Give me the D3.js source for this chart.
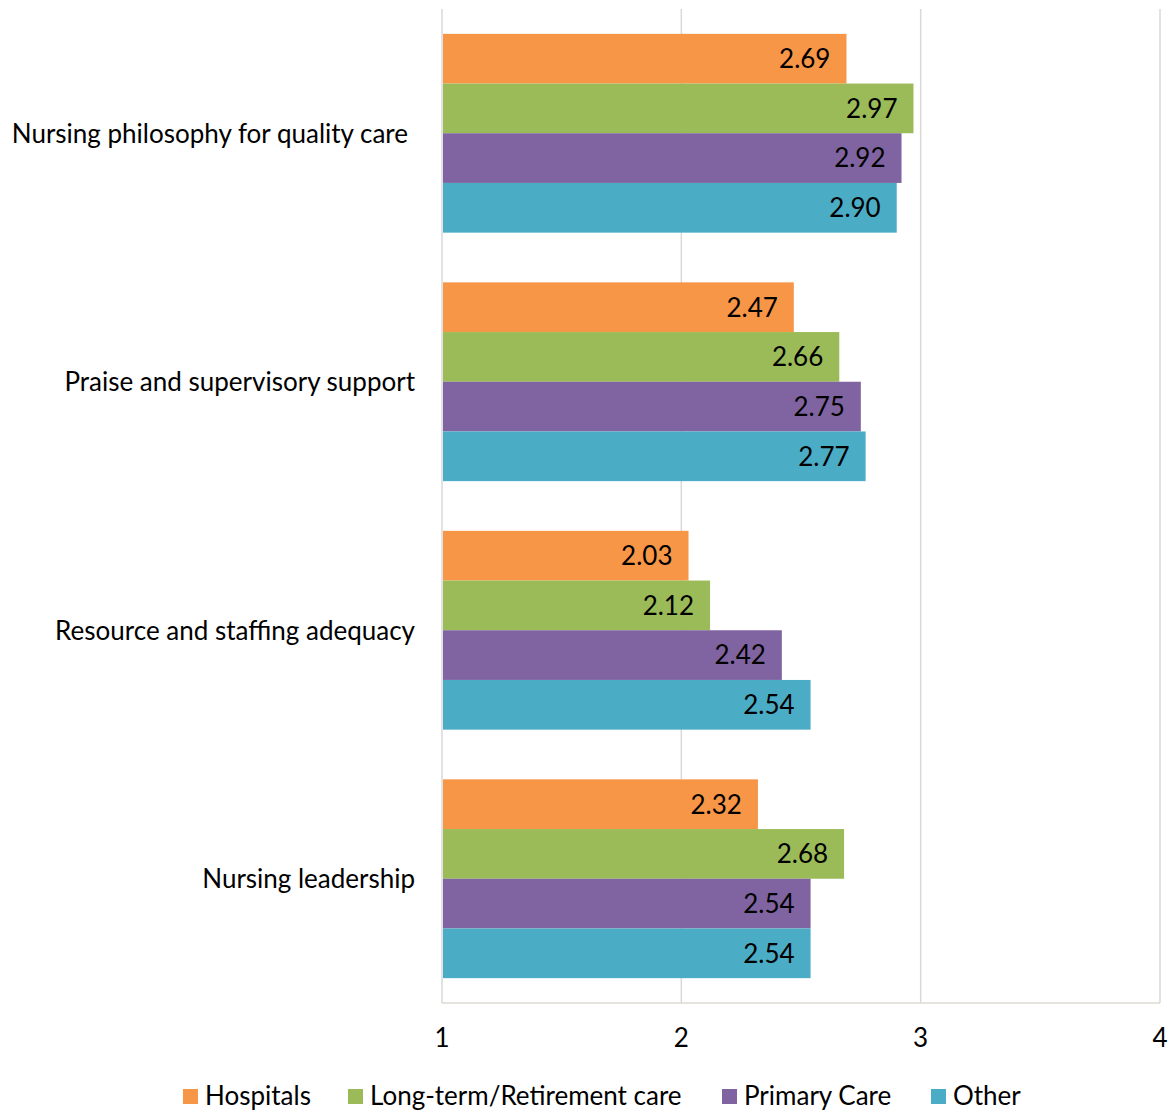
<!DOCTYPE html>
<html>
<head>
<meta charset="utf-8">
<script src="https://cdn.jsdelivr.net/npm/d3@7"></script>
<style>
  html, body { margin: 0; padding: 0; background: #fff; }
  svg text { font-family: Lato, "Open Sans", sans-serif; fill: #000; }
</style>
</head>
<body>
<svg id="chart" width="1173" height="1111"></svg>
<script>
// Work-environment subscales by practice setting
const categories = [
  "Nursing philosophy for quality care",
  "Praise and supervisory support",
  "Resource and staffing adequacy",
  "Nursing leadership"
];
const seriesNames = ["Hospitals", "Long-term/Retirement care", "Primary Care", "Other"];
const hospitals = [2.69, 2.47, 2.03, 2.32];
const longTerm  = [2.97, 2.66, 2.12, 2.68];
const primary   = [2.92, 2.75, 2.42, 2.54];
const other     = [2.90, 2.77, 2.54, 2.54];
const seriesValues = [hospitals, longTerm, primary, other];
const colors = ["#F79646", "#9BBB59", "#8064A2", "#4BACC6"];
const xTicks = [1, 2, 3, 4];

const FS = 26;
const svg = d3.select("#chart");
const plot = { left: 442, right: 1160, top: 9, bottom: 1003 };

const x = d3.scaleLinear().domain([1, 4]).range([plot.left, plot.right]);
const y = d3.scaleBand().domain(categories).range([plot.top, plot.bottom]).paddingInner(0.2).paddingOuter(0.1);
const ySub = d3.scaleBand().domain(seriesNames).range([0, y.bandwidth()]);

// vertical gridlines
svg.append("g")
  .selectAll("line")
  .data(xTicks)
  .join("line")
  .attr("x1", d => x(d)).attr("x2", d => x(d))
  .attr("y1", plot.top).attr("y2", plot.bottom)
  .attr("stroke", "#d9d9d9").attr("stroke-width", 1.5);

// bars
const groups = svg.append("g")
  .selectAll("g")
  .data(categories)
  .join("g")
  .attr("transform", d => `translate(0,${y(d)})`);

groups.each(function(cat, ci) {
  const g = d3.select(this);
  seriesNames.forEach((s, si) => {
    const v = seriesValues[si][ci];
    g.append("rect")
      .attr("x", x(1) + 1)
      .attr("y", ySub(s))
      .attr("width", x(v) - x(1) - 1)
      .attr("height", ySub.bandwidth())
      .attr("fill", colors[si]);
    g.append("text")
      .attr("x", x(v) - 16)
      .attr("y", ySub(s) + ySub.bandwidth() / 2)
      .attr("dy", "0.36em")
      .attr("text-anchor", "end")
      .attr("font-size", FS)
      .text(v.toFixed(2));
  });
});

// bottom axis line
svg.append("line")
  .attr("x1", plot.left).attr("x2", plot.right)
  .attr("y1", plot.bottom).attr("y2", plot.bottom)
  .attr("stroke", "#dcdad0").attr("stroke-width", 1.5);

// tick labels
svg.append("g")
  .selectAll("text")
  .data(xTicks)
  .join("text")
  .attr("x", d => x(d))
  .attr("y", 1038)
  .attr("dy", "0.36em")
  .attr("text-anchor", "middle")
  .attr("font-size", FS)
  .text(d => d);

// category labels
svg.append("g")
  .selectAll("text")
  .data(categories)
  .join("text")
  .attr("x", (d, i) => i === 0 ? 408 : 415)
  .attr("y", d => y(d) + y.bandwidth() / 2)
  .attr("dy", "0.36em")
  .attr("text-anchor", "end")
  .attr("font-size", FS)
  .text(d => d);

// legend
const legendX = [183, 348, 722, 931];
const legend = svg.append("g")
  .selectAll("g")
  .data(seriesNames)
  .join("g")
  .attr("transform", (d, i) => `translate(${legendX[i]},1096)`);
legend.append("rect")
  .attr("x", 0).attr("y", -7)
  .attr("width", 15).attr("height", 15)
  .attr("fill", (d, i) => colors[i]);
legend.append("text")
  .attr("x", 22).attr("y", 0)
  .attr("dy", "0.36em")
  .attr("font-size", FS)
  .text(d => d);
</script>
</body>
</html>
